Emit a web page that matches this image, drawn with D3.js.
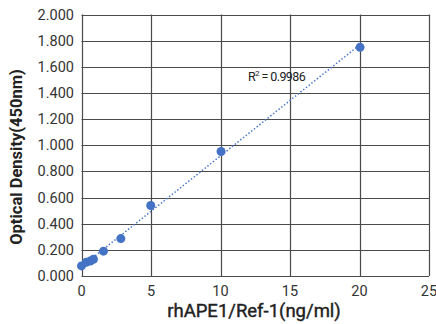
<!DOCTYPE html>
<html>
<head>
<meta charset="utf-8">
<script src="https://cdn.jsdelivr.net/npm/d3@7"></script>
<style>
  body { margin: 0; background: #fff; }
  svg text { font-family: Roboto, "Noto Sans", sans-serif; fill: #222; }
</style>
</head>
<body>
<div id="chart"></div>
<script>
// standard curve points
var conc = [0.0, 0.34, 0.63, 0.86, 1.58, 2.83, 4.98, 10.04, 20.04];
var od = [0.077, 0.105, 0.115, 0.128, 0.19, 0.286, 0.539, 0.952, 1.749];
var xTicks = [0, 5, 10, 15, 20, 25];
var yTicks = [0, 0.2, 0.4, 0.6, 0.8, 1.0, 1.2, 1.4, 1.6, 1.8, 2.0];
var r2Label = "0.9986";

var width = 436, height = 324;
var margin = {top: 14.5, right: 7, bottom: 48, left: 81.5};

var svg = d3.select("#chart").append("svg")
    .attr("width", width).attr("height", height);

var x = d3.scaleLinear().domain([0, 25]).range([margin.left, width - margin.right]);
var y = d3.scaleLinear().domain([0, 2]).range([height - margin.bottom, margin.top]);

// grid
svg.append("g").selectAll("line").data(yTicks).enter()
    .append("line")
    .attr("x1", x(0)).attr("x2", x(25))
    .attr("y1", d => Math.round(y(d)) + 0.5).attr("y2", d => Math.round(y(d)) + 0.5)
    .attr("stroke", "#4a4a4a").attr("stroke-width", 1.2);

svg.append("g").selectAll("line").data(xTicks).enter()
    .append("line")
    .attr("y1", y(0)).attr("y2", y(2))
    .attr("x1", d => Math.round(x(d)) + 0.5).attr("x2", d => Math.round(x(d)) + 0.5)
    .attr("stroke", "#4a4a4a").attr("stroke-width", 1.2);

// tick labels
svg.append("g").selectAll("text").data(yTicks).enter()
    .append("text")
    .attr("x", 74).attr("y", d => y(d) + 5)
    .attr("text-anchor", "end")
    .attr("font-size", 14.5)
    .style("fill", "#333")
    .text(d => d3.format(".3f")(d));

svg.append("g").selectAll("text").data(xTicks).enter()
    .append("text")
    .attr("x", d => x(d)).attr("y", 296)
    .attr("text-anchor", "middle")
    .attr("font-size", 14.5)
    .style("fill", "#333")
    .text(d => d);

// axis titles
svg.append("text")
    .attr("transform", "translate(22,157) rotate(-90)")
    .attr("text-anchor", "middle")
    .attr("font-size", 16.5)
    .attr("font-weight", "bold")
    .text("Optical Density(450nm)");

svg.append("text")
    .attr("x", 254).attr("y", 317)
    .attr("text-anchor", "middle")
    .attr("font-size", 18.5)
    .style("stroke", "#222").style("stroke-width", 0.4)
    .text("rhAPE1/Ref-1(ng/ml)");

// linear trendline from the points
var reg = (function () {
    var n = conc.length;
    var mx = d3.mean(conc), my = d3.mean(od);
    var sxy = 0, sxx = 0;
    for (var i = 0; i < n; i++) {
        sxy += (conc[i] - mx) * (od[i] - my);
        sxx += (conc[i] - mx) * (conc[i] - mx);
    }
    var b = sxy / sxx;
    return {b: b, a: my - b * mx};
})();

var xMin = d3.min(conc), xMax = d3.max(conc);
svg.append("line")
    .attr("x1", x(xMin)).attr("y1", y(reg.a + reg.b * xMin))
    .attr("x2", x(xMax)).attr("y2", y(reg.a + reg.b * xMax))
    .attr("stroke", "#4a78c8")
    .attr("stroke-width", 1.5)
    .attr("stroke-dasharray", "1.5,2");

// points
svg.append("g").selectAll("circle").data(conc).enter()
    .append("circle")
    .attr("cx", d => x(d))
    .attr("cy", (d, i) => y(od[i]))
    .attr("r", 4.5)
    .attr("fill", "#4472c4");

// R squared
var r2 = svg.append("text")
    .attr("x", 248).attr("y", 81)
    .attr("font-size", 12.5)
    .attr("letter-spacing", -0.6);
r2.append("tspan").text("R");
r2.append("tspan").attr("font-size", 8).attr("dy", -5).text("2");
r2.append("tspan").attr("dy", 5).text(" = " + r2Label);
</script>
</body>
</html>
